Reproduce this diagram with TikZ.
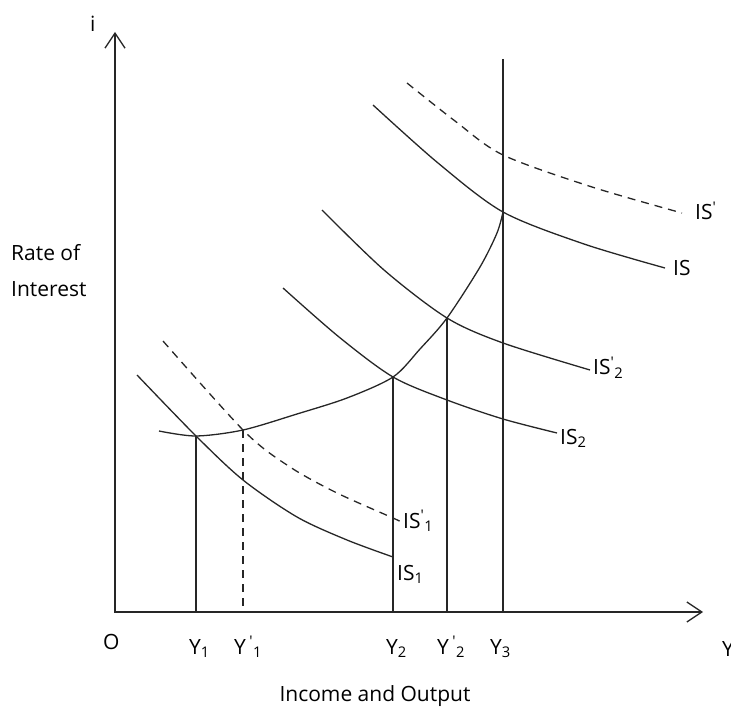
\documentclass[tikz,border=0pt]{standalone}
\usepackage{fontspec}
\setmainfont{Open Sans}
\usetikzlibrary{arrows.meta}

% prime with a subscript, as in IS'_1
\newcommand{\prsub}[1]{\textsuperscript{\textquotesingle}\textsubscript{#1}}

\begin{document}
\begin{tikzpicture}[x=1pt,y=-1pt,
    curve/.style={line width=1.3pt, black!85},
    dcurve/.style={curve, dash pattern=on 8pt off 6pt},
    axis/.style={line width=1.3pt, black!85, {Straight Barb[length=15pt,width=20pt]}-{Straight Barb[length=15pt,width=20pt]}},
    lbl/.style={font=\fontsize{21}{36}\selectfont, inner sep=0pt, anchor=base west}
]
\useasboundingbox (0,0) rectangle (731,708);

% axes
\coordinate (orig) at (115,612);
\coordinate (ytop) at (115,32);
\coordinate (xend) at (703,612);
\draw[axis] (ytop) -- (orig) -- (xend);

% equilibrium points
\coordinate (E1) at (196,436);
\coordinate (E1d) at (243,430);
\coordinate (E2) at (393,377);
\coordinate (E2d) at (447,318);
\coordinate (E3) at (503,212);
\coordinate (E3d) at (503,155);
\coordinate (top3) at (503,59);

% IS curves
\draw[curve] plot[smooth] coordinates {(137,375) (E1) (243,480) (297,517) (347,540) (393,557)};
\draw[dcurve] plot[smooth] coordinates {(163,341) (245,432) (290,467) (337,493) (393,518) (401,522)};
\draw[curve] plot[smooth] coordinates {(283,288) (339,337) (E2) (447,400) (503,419) (557,433)};
\draw[curve] plot[smooth] coordinates {(322,210) (384,270) (E2d) (503,343) (590,370)};
\draw[curve] plot[smooth] coordinates {(373,105) (438,163) (E3) (584,244) (665,268)};
\draw[dcurve] plot[smooth] coordinates {(407,83) (455,121) (E3d) (592,187) (682,213)};

% LM curve
\draw[curve] plot[smooth] coordinates {(159,431) (E1) (E1d) (297,414) (347,398) (E2) (420,349) (E2d) (480,267) (497,233) (E3)};
\draw[line width=2.6pt, black!85] (E3) -- (E3d);

% income levels
\draw[curve] (E1) -- (E1 |- orig);
\draw[dcurve] (E1d) -- (E1d |- orig);
\draw[curve] (E2) -- (E2 |- orig);
\draw[curve] (E2d) -- (E2d |- orig);
\draw[curve] (top3) -- (top3 |- orig);

% labels
\node[lbl] (ilbl) at (90,32) {i};
\node[lbl] (Olbl) at (103,649) {O};
\node[lbl] (Ylbl) at (722,656) {Y};
\node[lbl, align=left] (rate) at (11,297) {Rate of\\Interest};
\node[lbl, anchor=base] (income) at (375,701) {Income and Output};

\node[lbl] (y1) at (189,654) {Y\textsubscript{1}};
\node[lbl] (y1d) at (234,654) {Y\,\prsub{1}};
\node[lbl] (y2) at (386,654) {Y\textsubscript{2}};
\node[lbl] (y2d) at (437,654) {Y\,\prsub{2}};
\node[lbl] (y3) at (490,654) {Y\textsubscript{3}};

\node[lbl] (is1) at (397,580) {IS\textsubscript{1}};
\node[lbl] (is1d) at (403,528) {IS\prsub{1}};
\node[lbl] (is2) at (560,444) {IS\textsubscript{2}};
\node[lbl] (is2d) at (593,375) {IS\prsub{2}};
\node[lbl] (is) at (673,276) {IS};
\node[lbl] (isd) at (695,220) {IS\textsuperscript{\textquotesingle}};
\end{tikzpicture}
\end{document}
